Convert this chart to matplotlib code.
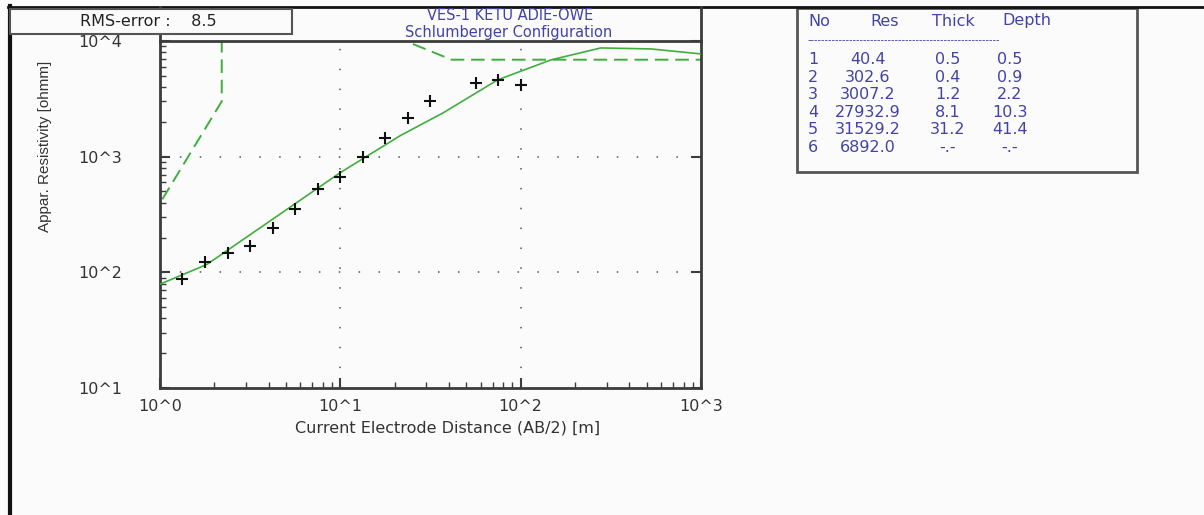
import matplotlib
matplotlib.use("Agg")
import matplotlib.pyplot as plt
from matplotlib.lines import Line2D
from matplotlib.patches import Rectangle
from matplotlib.ticker import LogLocator, FixedLocator, NullFormatter

# field sounding: AB/2 [m] and apparent resistivity [ohm-m]
ab2_obs = [1.33, 1.78, 2.37, 3.16, 4.22, 5.62, 7.5, 10.0, 13.3, 17.8, 23.7, 31.6, 56.2, 75.0, 100.0]
rho_obs = [87, 124, 147, 169, 241, 354, 523, 664, 995, 1440, 2160, 3040, 4350, 4580, 4130]

# computed response of the fitted model
ab2_fit = [1.0, 1.82, 10.0, 21.5, 37.3, 74.5, 147.0, 278.0, 527.0, 1000.0]
rho_fit = [79, 117, 728, 1520, 2400, 4610, 6860, 8710, 8540, 7730]

# layer model trace (depth vs resistivity)
depth_trace = [0.9, 2.2, 2.2, 23.0, 41.4, 1000.0]
rho_trace = [302.6, 3007.2, 27932.9, 10000.0, 6892.0, 6892.0]

# layer table
layer_no = [1, 2, 3, 4, 5, 6]
layer_res = ["40.4", "302.6", "3007.2", "27932.9", "31529.2", "6892.0"]
layer_thick = ["0.5", "0.4", "1.2", "8.1", "31.2", "-.-"]
layer_depth = ["0.5", "0.9", "2.2", "10.3", "41.4", "-.-"]

rms_error = 8.5
title_lines = ["VES-1 KETU ADIE-OWE", "Schlumberger Configuration"]

W, H = 1204, 515
GREEN = "#3fae3f"
BLUE = "#4242a8"
SPINE = "#3c3c3c"
BG = "#fbfbfb"
TXT = "#333333"
FS = 11.5

plt.rcParams["font.family"] = ["DejaVu Sans"]


def fx(x):
    return x / W


def fy(y):
    return 1 - y / H


fig = plt.figure(figsize=(W / 100, H / 100), dpi=100, facecolor=BG)
ax = fig.add_axes([fx(160), fy(388), fx(701) - fx(160), fy(41) - fy(388)])
ax.set_facecolor(BG)
ax.set_xscale("log")
ax.set_yscale("log")
ax.set_xlim(1, 1000)
ax.set_ylim(10, 10000)

# sparse dotted grid at inner decades
for gx in [10, 100]:
    ax.axvline(gx, color="#555555", lw=1.1, ls=(0, (1, 12)), zorder=1)
for gy in [100, 1000]:
    ax.axhline(gy, color="#555555", lw=1.1, ls=(0, (1, 12)), zorder=1)

ax.plot(depth_trace, rho_trace, color=GREEN, lw=1.4, dashes=(7, 3.5), zorder=2)
ax.plot(ab2_fit, rho_fit, color=GREEN, lw=1.2, zorder=3)
ax.plot(ab2_obs, rho_obs, ls="none", marker="+", ms=9, mew=1.5, color="#111111", zorder=4)

for side in ["left", "right", "bottom", "top"]:
    ax.spines[side].set_color(SPINE)
    ax.spines[side].set_linewidth(2)

ax.xaxis.set_major_locator(FixedLocator([1, 10, 100, 1000]))
ax.yaxis.set_major_locator(FixedLocator([10, 100, 1000, 10000]))
ax.xaxis.set_minor_locator(LogLocator(base=10, subs=range(2, 10)))
ax.yaxis.set_minor_locator(LogLocator(base=10, subs=range(2, 10)))
ax.xaxis.set_minor_formatter(NullFormatter())
ax.yaxis.set_minor_formatter(NullFormatter())
ax.set_xticklabels(["10^0", "10^1", "10^2", "10^3"])
ax.set_yticklabels(["10^1", "10^2", "10^3", "10^4"])
ax.tick_params(which="major", direction="in", length=7, width=1.5, color=SPINE,
               right=True, top=False, labelsize=FS, labelcolor=TXT)
ax.tick_params(which="minor", direction="in", length=4, width=1, color=SPINE,
               right=False, top=False)
ax.tick_params(axis="x", which="major", pad=8)
ax.tick_params(axis="y", which="major", pad=27)

fig.text(fx(448), fy(428), "Current Electrode Distance (AB/2) [m]", ha="center", va="center",
         fontsize=FS, color=TXT)
fig.text(fx(45), fy(146), "Appar. Resistivity [ohmm]", rotation=90, ha="center", va="center",
         fontsize=11, color=TXT, family=["Liberation Sans Narrow", "Liberation Sans"])

# outer frame and title strip
fig.add_artist(Line2D([fx(8), fx(W)], [fy(6.5), fy(6.5)], color="#111111", lw=2))
fig.add_artist(Line2D([fx(9.5), fx(9.5)], [fy(6), fy(H)], color="#111111", lw=3))
for xv in [160, 701]:
    fig.add_artist(Line2D([fx(xv), fx(xv)], [fy(7), fy(42)], color=SPINE, lw=2))

fig.text(fx(510), fy(16), title_lines[0], ha="center", va="center", fontsize=10.5, color=BLUE)
fig.text(fx(509), fy(33), title_lines[1], ha="center", va="center", fontsize=10.5, color=BLUE)

# RMS box
fig.add_artist(Rectangle((fx(10), fy(34)), fx(292) - fx(10), fy(9) - fy(34),
                         facecolor=BG, edgecolor="#555555", lw=1.5, zorder=5))
fig.text(fx(148), fy(22), f"RMS-error :    {rms_error}", ha="center", va="center",
         fontsize=FS, color="#222222", zorder=6)

# layer table
fig.add_artist(Rectangle((fx(797), fy(172)), fx(1137) - fx(797), fy(8) - fy(172),
                         facecolor=BG, edgecolor="#555555", lw=2))
hdr_y = 21
fig.text(fx(808), fy(hdr_y), "No", ha="left", va="center", fontsize=FS, color=BLUE)
fig.text(fx(885), fy(hdr_y), "Res", ha="center", va="center", fontsize=FS, color=BLUE)
fig.text(fx(953), fy(hdr_y), "Thick", ha="center", va="center", fontsize=FS, color=BLUE)
fig.text(fx(1027), fy(hdr_y), "Depth", ha="center", va="center", fontsize=FS, color=BLUE)
fig.text(fx(808), fy(40), "-" * 55, ha="left", va="center", fontsize=7, color=BLUE)

for i, (n, r, t, d) in enumerate(zip(layer_no, layer_res, layer_thick, layer_depth)):
    y = 60 + i * 17.4
    fig.text(fx(808), fy(y), str(n), ha="left", va="center", fontsize=FS, color=BLUE)
    fig.text(fx(868), fy(y), r, ha="center", va="center", fontsize=FS, color=BLUE)
    fig.text(fx(948), fy(y), t, ha="center", va="center", fontsize=FS, color=BLUE)
    fig.text(fx(1010), fy(y), d, ha="center", va="center", fontsize=FS, color=BLUE)

fig.savefig("out.png", dpi=100, facecolor=BG)
